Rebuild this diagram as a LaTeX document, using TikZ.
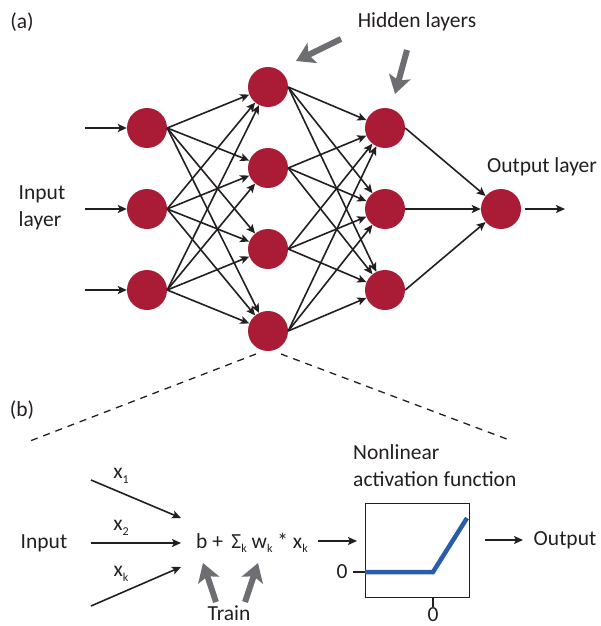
\documentclass[tikz,border=0pt]{standalone}
\usepackage{fontspec}
\setmainfont{Carlito}
\usetikzlibrary{arrows.meta}
\definecolor{nred}{RGB}{170,27,54}
\definecolor{ngray}{RGB}{109,110,113}
\definecolor{ntext}{RGB}{35,31,32}
\definecolor{nblue}{RGB}{42,92,170}
\newcommand\sbs[1]{\raisebox{-0.45ex}{\fontsize{12}{12}\selectfont #1}}
\tikzset{
  neuron/.style={circle,fill=nred,minimum size=40pt,inner sep=0pt},
  conn/.style={line width=1.6pt,draw=ntext,-{Stealth[length=9pt,width=8pt,inset=2pt]}},
  bigarrow/.style={line width=6pt,draw=ngray,-{Stealth[length=18pt,width=22pt,inset=4pt]}},
  lbl/.style={text=ntext,font=\fontsize{21.5}{25}\selectfont,inner sep=0pt},
  dashline/.style={dashed,line width=1.3pt,dash pattern=on 7pt off 6pt,draw=ntext}
}
\begin{document}
\begin{tikzpicture}[x=1pt,y=-1pt]
\useasboundingbox (0,0) rectangle (600,626);
% nodes
\node[neuron] (i1) at (147,128) {};
\node[neuron] (i2) at (147,209) {};
\node[neuron] (i3) at (147,290) {};
\node[neuron] (h1) at (268,87) {};
\node[neuron] (h2) at (268,168) {};
\node[neuron] (h3) at (268,249) {};
\node[neuron] (h4) at (268,331) {};
\node[neuron] (g1) at (385,128) {};
\node[neuron] (g2) at (385,209) {};
\node[neuron] (g3) at (385,290) {};
\node[neuron] (o) at (501,209) {};
% input arrows
\coordinate (s1) at (85,128);
\coordinate (s2) at (85,209);
\coordinate (s3) at (85,290);
\foreach \k in {1,2,3} \draw[conn] (s\k) -- (i\k);
\foreach \a in {1,2,3} \foreach \b in {1,2,3,4} \draw[conn] (i\a.east) -- (h\b);
\foreach \a in {1,2,3,4} \foreach \b in {1,2,3} \draw[conn] (h\a.east) -- (g\b);
\foreach \a in {1,2,3} \draw[conn] (g\a.east) -- (o);
\coordinate (os) at (525,209);
\coordinate (oe) at (565,209);
\draw[conn] (os) -- (oe);
% labels
\node[lbl] (la) at (22,22) {(a)};
\node[lbl,align=left] (linp) at (42,208) {Input\\[2pt]layer};
\node[lbl] (lhid) at (417,22) {Hidden layers};
\node[lbl] (lout) at (542,167) {Output layer};
\coordinate (ga1) at (341,39);
\coordinate (gt1) at (296,61);
\coordinate (ga2) at (407,50);
\coordinate (gt2) at (395,94);
\draw[bigarrow] (ga1) -- (gt1);
\draw[bigarrow] (ga2) -- (gt2);
% dashed
\coordinate (dl) at (30,441);
\coordinate (dr) at (512,441);
\coordinate (dls) at (256,354);
\coordinate (drs) at (281,354);
\draw[dashline] (dls) -- (dl);
\draw[dashline] (drs) -- (dr);
\node[lbl] (lb) at (22,410) {(b)};
% part b
\node[lbl] (binp) at (44,543) {Input};
\coordinate (x1a) at (91,480);
\coordinate (x1b) at (181,518);
\coordinate (x2a) at (91,543);
\coordinate (x2b) at (181,543);
\coordinate (x3a) at (91,606);
\coordinate (x3b) at (181,567);
\draw[conn] (x1a) -- (x1b);
\draw[conn] (x2a) -- (x2b);
\draw[conn] (x3a) -- (x3b);
\node[lbl] (lx1) at (121,476) {x\sbs{1}};
\node[lbl] (lx2) at (121,528) {x\sbs{2}};
\node[lbl] (lx3) at (121,574) {x\sbs{k}};
\node[lbl,anchor=west] (form) at (196,543) {b +\, Σ\sbs{k} w\sbs{k} * x\sbs{k}};
\coordinate (tr1a) at (216,602);
\coordinate (tr1b) at (203,563);
\coordinate (tr2a) at (245,602);
\coordinate (tr2b) at (258,563);
\draw[bigarrow] (tr1a) -- (tr1b);
\draw[bigarrow] (tr2a) -- (tr2b);
\node[lbl] (ltrain) at (229,613) {Train};
% activation box
\node[draw=ntext,line width=1.2pt,minimum width=104pt,minimum height=94pt,inner sep=0pt,anchor=north west] (box) at (365,503) {};
\coordinate (fa) at (318,541);
\coordinate (fb) at (357,541);
\draw[conn] (fa) -- (fb);
\coordinate (p0) at (365,572);
\coordinate (p1) at (433,572);
\coordinate (p2) at (467,518);
\draw[nblue,line width=4.5pt] (p0) -- (p1) -- (p2);
\coordinate (tk1) at (353,572);
\draw[line width=1.2pt,draw=ntext] (tk1) -- (p0);
\coordinate (tk2) at (433,607);
\draw[line width=1.2pt,draw=ntext] (p1 |- box.south) -- (tk2);
\node[lbl] (z1) at (342,572) {0};
\node[lbl] (z2) at (433,615) {0};
\node[lbl,align=left,anchor=west] (lnl) at (353,466) {Nonlinear\\[2pt]activation function};
\coordinate (oa) at (485,540);
\coordinate (ob) at (523,540);
\draw[conn] (oa) -- (ob);
\node[lbl] (lo) at (565,540) {Output};
\end{tikzpicture}
\end{document}
